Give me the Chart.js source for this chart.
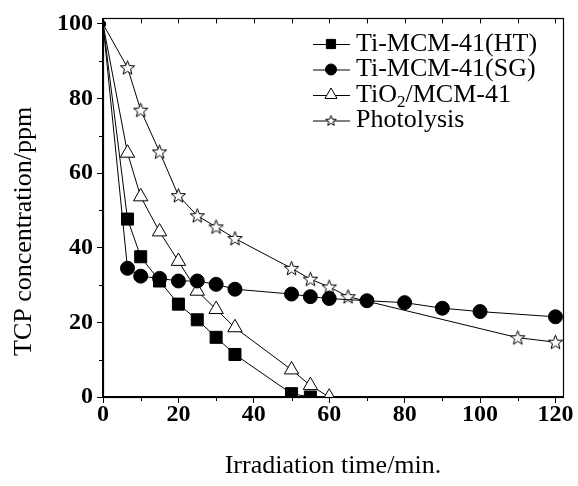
<!DOCTYPE html>
<html>
<head>
<meta charset="utf-8">
<script src="https://cdn.jsdelivr.net/npm/chart.js@4/dist/chart.umd.min.js"></script>
<style>
  html, body { margin: 0; padding: 0; background: #fff; }
  #wrap { width: 578px; height: 486px; }
</style>
</head>
<body>
<div id="wrap"><canvas id="chart" width="578" height="486"></canvas></div>
<script>
// 데이터
const htTime = [0, 6.5, 10, 15, 20, 25, 30, 35, 50, 55];
const htConc = [100, 47.7, 37.6, 31.1, 24.9, 20.7, 16.0, 11.4, 0.9, 0];

const sgTime = [0, 6.5, 10, 15, 20, 25, 30, 35, 50, 55, 60, 70, 80, 90, 100, 120];
const sgConc = [100, 34.5, 32.4, 31.8, 31.1, 31.1, 30.2, 28.9, 27.6, 26.9, 26.4, 25.8, 25.3, 23.8, 22.9, 21.5];

const tiTime = [0, 6.5, 10, 15, 20, 25, 30, 35, 50, 55, 60];
const tiConc = [100, 65.4, 53.7, 44.3, 36.4, 28.4, 23.5, 18.6, 7.3, 3.1, 0];

const phTime = [0, 6.5, 10, 15, 20, 25, 30, 35, 50, 55, 60, 65, 110, 120];
const phConc = [100, 88.3, 76.9, 65.7, 54.0, 48.6, 45.6, 42.5, 34.5, 31.6, 29.5, 26.9, 15.9, 14.7];

const seriesLabels = ['Ti-MCM-41(HT)', 'Ti-MCM-41(SG)', 'TiO2/MCM-41', 'Photolysis'];
const xTitle = 'Irradiation time/min.';
const yTitle = 'TCP concentration/ppm';

const SERIF = '"Liberation Serif", "Times New Roman", serif';
const TEXT_SIZE = 26;

// 별 모양 마커 (Chart.js 기본 star 는 별표라서 직접 그림)
function makeStar(size) {
    const c = document.createElement('canvas');
    c.width = size; c.height = size;
    const g = c.getContext('2d');
    const cx = size / 2, cy = size / 2 + 0.5;
    const ro = size / 2 - 1, ri = ro * 0.42;
    g.beginPath();
    for (let i = 0; i < 10; i++) {
        const r = i % 2 === 0 ? ro : ri;
        const a = -Math.PI / 2 + i * Math.PI / 5;
        const px = cx + r * Math.cos(a), py = cy + r * Math.sin(a);
        if (i === 0) g.moveTo(px, py); else g.lineTo(px, py);
    }
    g.closePath();
    g.fillStyle = '#fff';
    g.fill();
    g.lineWidth = 1;
    g.strokeStyle = '#000';
    g.stroke();
    return c;
}
const starBig = makeStar(17);
const starSmall = makeStar(13);
const starTiny = makeStar(8);

const toPoints = (xs, ys) => xs.map((x, i) => ({ x: x, y: ys[i] }));
const firstSmall = (big, small) => (ctx) => ctx.dataIndex === 0 ? small : big;

const datasets = [
    {
        label: seriesLabels[0],
        data: toPoints(htTime, htConc),
        borderColor: '#000', borderWidth: 1,
        pointStyle: 'rect', pointRadius: firstSmall(8.5, 3),
        pointBackgroundColor: '#000', pointBorderColor: '#000', pointBorderWidth: 1,
        legendRadius: 6.5
    },
    {
        label: seriesLabels[1],
        data: toPoints(sgTime, sgConc),
        borderColor: '#000', borderWidth: 1,
        pointStyle: 'circle', pointRadius: firstSmall(7, 2.5),
        pointBackgroundColor: '#000', pointBorderColor: '#000', pointBorderWidth: 1,
        legendRadius: 5.5
    },
    {
        label: seriesLabels[2],
        data: toPoints(tiTime, tiConc),
        borderColor: '#000', borderWidth: 1,
        pointStyle: 'triangle', pointRadius: firstSmall(8.3, 3),
        pointBackgroundColor: '#fff', pointBorderColor: '#000', pointBorderWidth: 1,
        legendRadius: 7
    },
    {
        label: seriesLabels[3],
        data: toPoints(phTime, phConc),
        borderColor: '#000', borderWidth: 1,
        pointStyle: (ctx) => ctx.dataIndex === 0 ? starTiny : starBig,
        pointRadius: 8,
        pointBackgroundColor: '#fff', pointBorderColor: '#000',
        legendRadius: 6
    }
];

// 테두리, 보조 눈금, 범례, 세로축 제목
const decorPlugin = {
    id: 'decor',
    afterDraw(chart) {
        const ctx = chart.ctx;
        const a = chart.chartArea;
        const xs = chart.scales.x, ys = chart.scales.y;
        ctx.save();
        ctx.strokeStyle = '#000';
        ctx.lineWidth = 1.2;
        ctx.strokeRect(Math.round(a.left) + 0.5, Math.round(a.top) + 0.5,
            Math.round(a.right - a.left), Math.round(a.bottom - a.top));

        ctx.lineWidth = 1;
        ctx.beginPath();
        for (let v = 10; v <= 120; v += 10) {
            const px = Math.round(xs.getPixelForValue(v)) + 0.5;
            // 위쪽 안쪽 눈금
            ctx.moveTo(px, a.top); ctx.lineTo(px, a.top + 5);
            // 아래쪽 보조 눈금
            if (v % 20 !== 0) { ctx.moveTo(px, a.bottom); ctx.lineTo(px, a.bottom + 4); }
        }
        for (let v = 10; v <= 90; v += 20) {
            const py = Math.round(ys.getPixelForValue(v)) + 0.5;
            ctx.moveTo(a.left, py); ctx.lineTo(a.left - 4, py);
        }
        ctx.stroke();

        // 범례
        const rowY = [44, 69.5, 95, 120.5];
        const lineX0 = 313, lineX1 = 350, markX = 331, textX = 356;
        const mainFont = TEXT_SIZE + 'px ' + SERIF;
        ctx.textBaseline = 'middle';
        chart.data.datasets.forEach((ds, i) => {
            const y = rowY[i];
            ctx.beginPath();
            ctx.lineWidth = 1;
            ctx.strokeStyle = '#000';
            ctx.moveTo(lineX0, y + 0.5); ctx.lineTo(lineX1, y + 0.5);
            ctx.stroke();
            if (i === 3) {
                ctx.drawImage(starSmall, markX - 6.5, y - 6.5);
            } else {
                ctx.fillStyle = ds.pointBackgroundColor;
                ctx.strokeStyle = '#000';
                Chart.helpers.drawPoint(ctx, {
                    pointStyle: ds.pointStyle, radius: ds.legendRadius, borderWidth: 1
                }, markX, y);
            }
            ctx.fillStyle = '#000';
            const label = ds.label;
            const sub = label.indexOf('O2');
            if (sub >= 0) {
                const head = label.slice(0, sub + 1);
                const tail = label.slice(sub + 2);
                let x = textX;
                ctx.font = mainFont;
                ctx.fillText(head, x, y);
                x += ctx.measureText(head).width;
                ctx.font = '17px ' + SERIF;
                ctx.fillText('2', x, y + 8);
                x += ctx.measureText('2').width;
                ctx.font = mainFont;
                ctx.fillText(tail, x, y);
            } else {
                ctx.font = mainFont;
                ctx.fillText(label, textX, y);
            }
        });

        // 세로축 제목
        ctx.translate(24, 356);
        ctx.rotate(-Math.PI / 2);
        ctx.font = mainFont;
        ctx.textAlign = 'left';
        ctx.textBaseline = 'middle';
        ctx.fillText(yTitle, 0, 0);
        ctx.restore();
    }
};

new Chart(document.getElementById('chart'), {
    type: 'line',
    data: { datasets: datasets },
    options: {
        responsive: false,
        animation: false,
        layout: { padding: { left: 0, top: 14, right: 15, bottom: 0 } },
        datasets: { line: { clip: 0, tension: 0 } },
        plugins: {
            legend: { display: false },
            tooltip: { enabled: false }
        },
        scales: {
            x: {
                type: 'linear',
                min: 0, max: 122,
                afterFit: (s) => { s.height = 89; },
                grid: { display: true, drawOnChartArea: false, drawTicks: true, tickLength: 6, color: '#000', lineWidth: 1 },
                border: { display: true, color: '#000', width: 1.2 },
                ticks: {
                    stepSize: 20, includeBounds: false, padding: -3,
                    color: '#000',
                    font: { family: SERIF, size: 24, weight: 'bold' },
                    maxRotation: 0
                },
                title: {
                    display: true, text: xTitle, color: '#000',
                    font: { family: SERIF, size: TEXT_SIZE },
                    padding: { top: 0, bottom: 4 }
                }
            },
            y: {
                type: 'linear',
                min: 0, max: 101.5,
                afterFit: (s) => { s.width = 103; },
                grid: { display: true, drawOnChartArea: false, drawTicks: true, tickLength: 6, color: '#000', lineWidth: 1 },
                border: { display: true, color: '#000', width: 1.2 },
                ticks: {
                    stepSize: 20, includeBounds: false, padding: 4,
                    color: '#000',
                    font: { family: SERIF, size: 24, weight: 'bold' }
                }
            }
        }
    },
    plugins: [decorPlugin]
});
</script>
</body>
</html>
